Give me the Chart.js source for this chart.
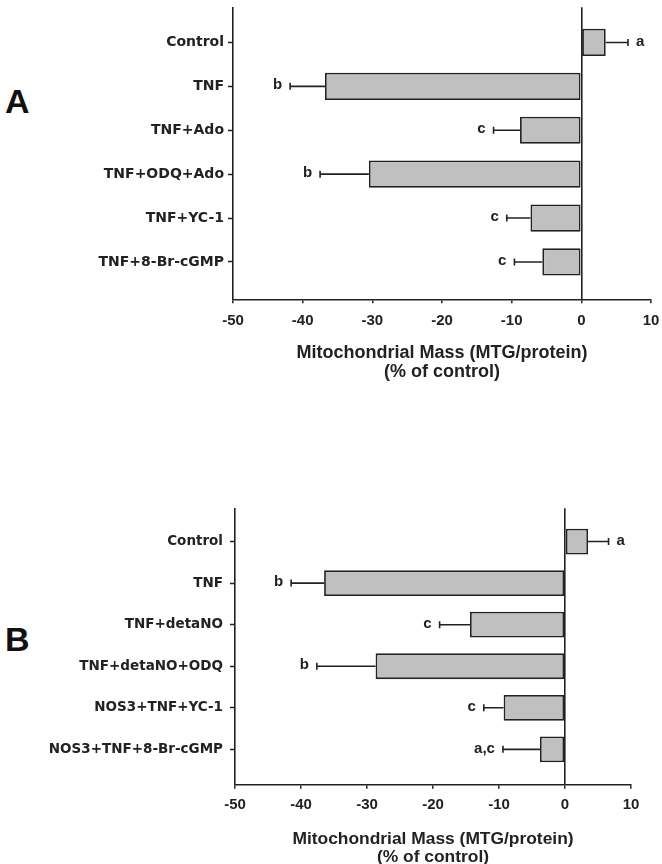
<!DOCTYPE html>
<html>
<head>
<meta charset="utf-8">
<script src="https://cdn.jsdelivr.net/npm/chart.js@4.4.1/dist/chart.umd.min.js"></script>
<style>
  body { margin: 0; background: #fff; width: 662px; height: 864px; overflow: hidden; position: relative; }
  canvas { position: absolute; left: 0; }
  #chartA { top: 0; }
  #chartB { top: 470px; }
  .panel { position: absolute; left: 5px; font: bold 34px "Liberation Sans", Arial, sans-serif; line-height: 34px; color: #111; }
</style>
</head>
<body>
<div class="panel" style="top:84px">A</div>
<canvas id="chartA" width="662" height="400"></canvas>
<div class="panel" style="top:622px">B</div>
<canvas id="chartB" width="662" height="420"></canvas>
<script>
// panel A data
const labelsA = ['Control', 'TNF', 'TNF+Ado', 'TNF+ODQ+Ado', 'TNF+YC-1', 'TNF+8-Br-cGMP'];
const valuesA = [3.5, -36.8, -8.8, -30.5, -7.3, -5.6];
const errorsA = [3.2, 5.0, 3.8, 7.0, 3.4, 4.0];
const sigA = ['a', 'b', 'c', 'b', 'c', 'c'];

// panel B data
const labelsB = ['Control', 'TNF', 'TNF+detaNO', 'TNF+detaNO+ODQ', 'NOS3+TNF+YC-1', 'NOS3+TNF+8-Br-cGMP'];
const valuesB = [3.5, -36.5, -14.4, -28.7, -9.3, -3.8];
const errorsB = [3.1, 5.0, 4.6, 8.9, 3.0, 5.6];
const sigB = ['a', 'b', 'c', 'b', 'c', 'a,c'];

const xTicks = [-50, -40, -30, -20, -10, 0, 10];
const axisTitle = ['Mitochondrial Mass (MTG/protein)', '(% of control)'];

const INK = '#222';
const SANS = '"Liberation Sans", Arial, sans-serif';

// error bars + letters next to each bar
const errorBars = {
  id: 'errorBars',
  afterDatasetsDraw(chart) {
    const ctx = chart.ctx;
    const xs = chart.scales.x;
    const ds = chart.data.datasets[0];
    const meta = chart.getDatasetMeta(0);
    ctx.save();
    ctx.strokeStyle = INK;
    ctx.lineWidth = 1.6;
    ctx.fillStyle = INK;
    ctx.font = 'bold 15px ' + SANS;
    ctx.textBaseline = 'middle';
    meta.data.forEach((bar, i) => {
      const v = ds.data[i].x;
      const dir = v < 0 ? -1 : 1;
      const x0 = xs.getPixelForValue(v);
      const x1 = xs.getPixelForValue(v + dir * ds.errors[i]);
      const y = bar.y;
      ctx.beginPath();
      ctx.moveTo(x0, y);
      ctx.lineTo(x1, y);
      ctx.moveTo(x1, y - 3.5);
      ctx.lineTo(x1, y + 3.5);
      ctx.stroke();
      ctx.textAlign = dir < 0 ? 'right' : 'left';
      ctx.fillText(ds.sig[i], x1 + dir * 8, y - 1);
    });
    ctx.restore();
  }
};

function makePanel(id, labels, values, errors, sig, lay) {
  return new Chart(document.getElementById(id), {
    type: 'bar',
    data: {
      datasets: [{
        data: values.map((v, i) => ({ x: v, y: i })),
        errors: errors,
        sig: sig,
        backgroundColor: '#c0c0c0',
        borderColor: INK,
        borderWidth: 1.8,
        borderSkipped: false,
        categoryPercentage: 1,
        barPercentage: 0.62,
      }],
    },
    options: {
      indexAxis: 'y',
      responsive: false,
      animation: false,
      layout: { padding: { top: lay.top, right: lay.right, left: 0, bottom: 0 } },
      plugins: { legend: { display: false }, tooltip: { enabled: false } },
      scales: {
        y: {
          type: 'linear',
          reverse: true,
          min: -0.8,
          max: 5.85,
          offset: false,
          afterBuildTicks: s => { s.ticks = labels.map((l, i) => ({ value: i })); },
          afterFit: s => { s.width = lay.left; s.paddingTop = 0; s.paddingBottom = 0; },
          ticks: {
            autoSkip: false,
            padding: lay.ypad,
            color: INK,
            font: { family: '"DejaVu Sans", sans-serif', weight: 'bold', size: lay.ysize },
            callback: v => labels[v],
          },
          grid: { offset: false, drawOnChartArea: false, tickLength: 5, tickColor: INK, tickWidth: 1.5 },
          border: { color: INK, width: 1.6 },
        },
        x: {
          min: xTicks[0],
          max: xTicks[xTicks.length - 1],
          afterBuildTicks: s => { s.ticks = xTicks.map(v => ({ value: v })); },
          afterFit: s => { s.height = lay.xh; s.paddingLeft = 0; s.paddingRight = 0; },
          ticks: {
            maxRotation: 0,
            padding: lay.xpad,
            color: INK,
            font: { family: SANS, weight: 'bold', size: 15 },
          },
          grid: {
            color: c => (c.tick && c.tick.value === 0 ? INK : 'rgba(0,0,0,0)'),
            lineWidth: 1.6,
            tickLength: 4,
            tickColor: INK,
            tickWidth: 1.5,
          },
          border: { color: INK, width: 1.6 },
          title: {
            display: true,
            text: axisTitle,
            color: INK,
            font: { family: SANS, weight: 'bold', size: lay.tsize, lineHeight: 1.08 },
            padding: { top: 0, bottom: lay.tpad },
          },
        },
      },
    },
    plugins: [errorBars],
  });
}

makePanel('chartA', labelsA, valuesA, errorsA, sigA,
  { top: 7.3, right: 11, left: 233, xh: 100.7, ypad: 4, ysize: 14, xpad: 9, tsize: 18, tpad: 18.3 });
makePanel('chartB', labelsB, valuesB, errorsB, sigB,
  { top: 38.3, right: 31, left: 235, xh: 105.3, ypad: 7, ysize: 13.5, xpad: 7.5, tsize: 17.4, tpad: 23 });
</script>
</body>
</html>
